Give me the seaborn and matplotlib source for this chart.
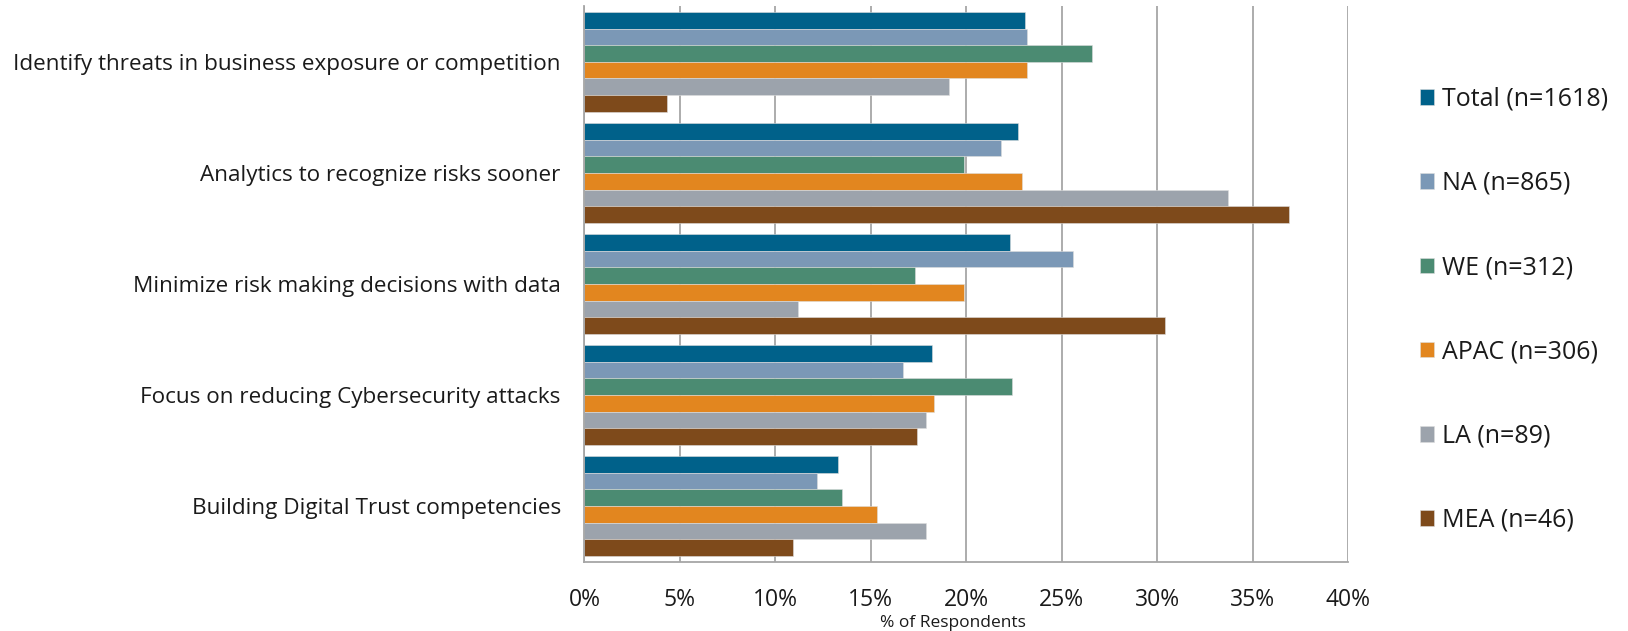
import matplotlib
matplotlib.use("Agg")
import matplotlib.pyplot as plt
import seaborn as sns
import pandas as pd
from matplotlib.ticker import FuncFormatter

categories = [
    "Identify threats in business exposure or competition",
    "Analytics to recognize risks sooner",
    "Minimize risk making decisions with data",
    "Focus on reducing Cybersecurity attacks",
    "Building Digital Trust competencies",
]
series = ["Total (n=1618)", "NA (n=865)", "WE (n=312)", "APAC (n=306)", "LA (n=89)", "MEA (n=46)"]
total = [23.1, 22.7, 22.3, 18.2, 13.3]
na = [23.2, 21.8, 25.6, 16.7, 12.2]
we = [26.6, 19.9, 17.3, 22.4, 13.5]
apac = [23.2, 22.9, 19.9, 18.3, 15.3]
la = [19.1, 33.7, 11.2, 17.9, 17.9]
mea = [4.3, 36.9, 30.4, 17.4, 10.9]
xticks = [0, 5, 10, 15, 20, 25, 30, 35, 40]

colors = ["#00618A", "#7B98B6", "#4B8B72", "#E2861F", "#9CA3AC", "#7E4A1B"]

values = [total, na, we, apac, la, mea]
rows = []
for s, vals in zip(series, values):
    for c, v in zip(categories, vals):
        rows.append({"Category": c, "Region": s, "Value": v})
df = pd.DataFrame(rows)

sns.set_style("white")
plt.rcParams["font.family"] = ["Open Sans", "DejaVu Sans"]

fig = plt.figure(figsize=(16.28, 6.31), dpi=100)
ax = fig.add_axes([0.359, 0.110, 0.469, 0.880])

sns.barplot(data=df, y="Category", x="Value", hue="Region", orient="h",
            palette=colors, width=0.9, ax=ax, order=categories, hue_order=series,
            edgecolor="#dddddd", linewidth=0.4, saturation=1)

ax.set_xlim(0, 40)
ax.set_xticks(xticks)
ax.xaxis.set_major_formatter(FuncFormatter(lambda v, p: f"{v:.0f}%"))
ax.grid(axis="x", color="#a6a6a6", linewidth=1.3)
ax.grid(axis="y", visible=False)
ax.set_axisbelow(True)
for side in ["top", "right"]:
    ax.spines[side].set_visible(False)
for side in ["left", "bottom"]:
    ax.spines[side].set_color("#a6a6a6")
    ax.spines[side].set_linewidth(1.3)

ax.tick_params(axis="x", length=0, pad=19, labelsize=16.5, labelcolor="#1a1a1a")
ax.tick_params(axis="y", length=0, pad=17, labelsize=16.2, labelcolor="#1a1a1a")
ax.set_ylabel("")
ax.set_xlabel("% of Respondents", fontsize=12.5, color="#1a1a1a")
ax.xaxis.label.set_va("center")
ax.xaxis.set_label_coords(0.483, -0.11)

handles, labels = ax.get_legend_handles_labels()
leg = ax.legend(handles, labels, loc="center left", bbox_to_anchor=(0.866, 0.509),
                bbox_transform=fig.transFigure, frameon=False, fontsize=18,
                handlelength=0.58, handleheight=0.58, handletextpad=0.32,
                labelspacing=2.37, borderaxespad=0)
for t in leg.get_texts():
    t.set_color("#1a1a1a")

fig.savefig("out.png", dpi=100)
